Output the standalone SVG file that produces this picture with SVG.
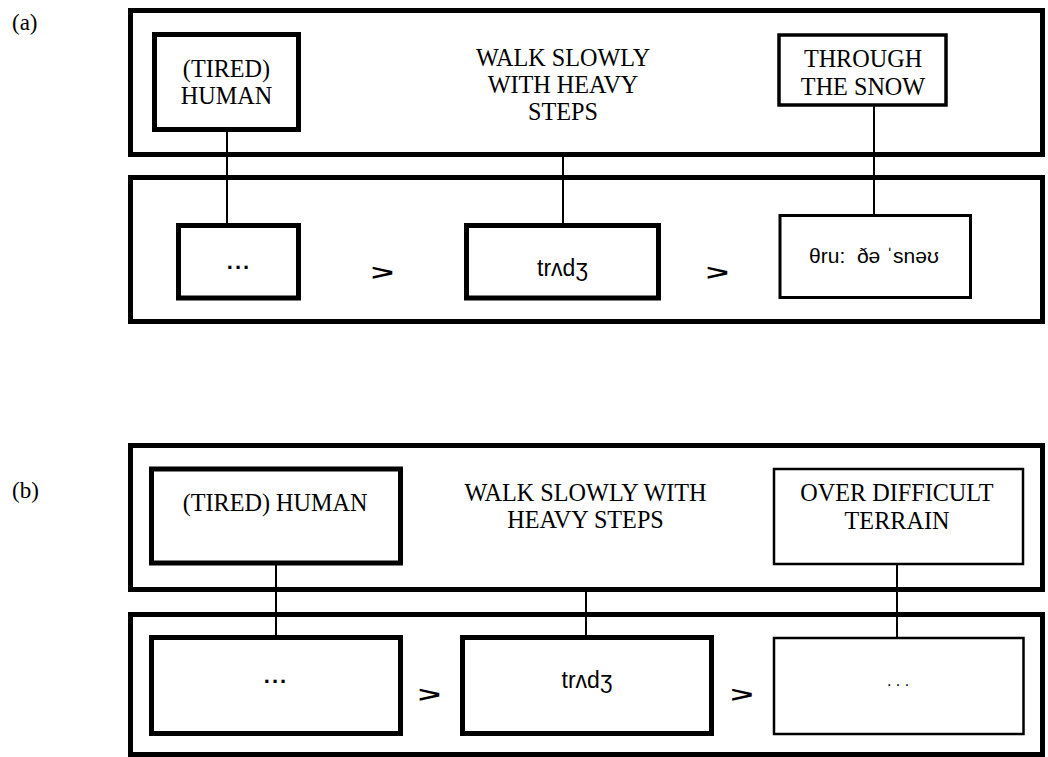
<svg xmlns="http://www.w3.org/2000/svg" width="1048" height="757" viewBox="0 0 1048 757">
<style>
  .frame { fill: none; stroke: #000; stroke-width: 5; }
  .thick { fill: #fff; stroke: #000; stroke-width: 5; }
  .thin { fill: #fff; stroke: #000; stroke-width: 2.5; }
  .conn line { stroke: #000; stroke-width: 2; }
  .serif { font-family: "Liberation Serif", "Times New Roman", serif; font-size: 24.2px; fill: #000; text-anchor: middle; }
  .lbl { font-family: "Liberation Serif", "Times New Roman", serif; font-size: 23px; fill: #000; }
  .ipa { font-family: "Liberation Sans", "DejaVu Sans", Arial, sans-serif; font-size: 21px; fill: #000; text-anchor: middle; white-space: pre; }
  .ipa2 { font-family: "Liberation Sans", "DejaVu Sans", Arial, sans-serif; font-size: 23px; fill: #000; text-anchor: middle; }
  .gt { font-family: "Liberation Sans", Arial, sans-serif; font-size: 30px; font-weight: bold; fill: #000; text-anchor: middle; }
  .dots { font-family: "Liberation Sans", Arial, sans-serif; font-size: 22px; font-weight: bold; fill: #000; text-anchor: middle; letter-spacing: 2px; }
  .dotsthin { font-family: "Liberation Sans", Arial, sans-serif; font-size: 16px; fill: #000; text-anchor: middle; white-space: pre; }
</style>
<rect width="1048" height="757" fill="#fff"/>

<!-- ===== (a) ===== -->
<text class="lbl" x="12" y="30">(a)</text>
<g id="a-frame-top"><rect class="frame" x="130.5" y="10.5" width="912" height="144"/></g>
<g id="a-frame-bottom"><rect class="frame" x="130.5" y="177.5" width="912" height="144"/></g>

<g class="conn" id="a-connectors">
  <line x1="227" y1="132" x2="227" y2="223"/>
  <line x1="563" y1="157" x2="563" y2="223"/>
  <line x1="874" y1="106" x2="874" y2="214"/>
</g>

<g id="a-human">
  <rect class="thick" x="154.5" y="34.5" width="144" height="95"/>
  <text class="serif" x="226.5" y="77">(TIRED)</text>
  <text class="serif" x="226.5" y="104">HUMAN</text>
</g>
<g id="a-walk">
  <text class="serif" x="563" y="66">WALK SLOWLY</text>
  <text class="serif" x="563" y="93">WITH HEAVY</text>
  <text class="serif" x="563" y="120">STEPS</text>
</g>
<g id="a-through">
  <rect class="thin" x="779" y="35" width="167" height="70" style="stroke-width:3.5"/>
  <text class="serif" x="863" y="67">THROUGH</text>
  <text class="serif" x="863" y="95">THE SNOW</text>
</g>
<g id="a-dots">
  <rect class="thick" x="178.5" y="225.5" width="120" height="72.5"/>
  <text class="dots" x="239" y="269">...</text>
</g>
<text class="gt" transform="translate(382.5,279.5) scale(1.3,0.75)">&gt;</text>
<g id="a-trudg">
  <rect class="thick" x="466.5" y="225.5" width="192" height="72.5"/>
  <text class="ipa2" x="562.5" y="276">trʌdʒ</text>
</g>
<text class="gt" transform="translate(717.5,279.5) scale(1.3,0.75)">&gt;</text>
<g id="a-thru">
  <rect class="thin" x="780" y="215.5" width="190.5" height="82" style="stroke-width:3"/>
  <text class="ipa" x="874" y="263" xml:space="preserve">θru:  ðə ˈsnəʊ</text>
</g>

<!-- ===== (b) ===== -->
<text class="lbl" x="12" y="498">(b)</text>
<g id="b-frame-top"><rect class="frame" x="130.5" y="445.5" width="912" height="144"/></g>
<g id="b-frame-bottom"><rect class="frame" x="130.5" y="614.5" width="912" height="140"/></g>

<g class="conn" id="b-connectors">
  <line x1="276" y1="565" x2="276" y2="635"/>
  <line x1="586" y1="592" x2="586" y2="635"/>
  <line x1="897" y1="564" x2="897" y2="638"/>
</g>

<g id="b-human">
  <rect class="thick" x="151.5" y="469" width="249" height="94"/>
  <text class="serif" x="275" y="511">(TIRED) HUMAN</text>
</g>
<g id="b-walk">
  <text class="serif" x="585.5" y="501">WALK SLOWLY WITH</text>
  <text class="serif" x="585.5" y="528">HEAVY STEPS</text>
</g>
<g id="b-over">
  <rect class="thin" x="774" y="469" width="249" height="95"/>
  <text class="serif" x="897" y="501">OVER DIFFICULT</text>
  <text class="serif" x="897" y="529">TERRAIN</text>
</g>
<g id="b-dots">
  <rect class="thick" x="151.5" y="637.5" width="249" height="96"/>
  <text class="dots" x="276" y="683">...</text>
</g>
<text class="gt" transform="translate(429.5,701.5) scale(1.3,0.75)">&gt;</text>
<g id="b-trudg">
  <rect class="thick" x="462.5" y="637.5" width="249" height="96"/>
  <text class="ipa2" x="587" y="688">trʌdʒ</text>
</g>
<text class="gt" transform="translate(742,701.5) scale(1.3,0.75)">&gt;</text>
<g id="b-ellipsis">
  <rect class="thin" x="774" y="638" width="249.5" height="96"/>
  <text class="dotsthin" x="898" y="686" xml:space="preserve">. . .</text>
</g>
</svg>
